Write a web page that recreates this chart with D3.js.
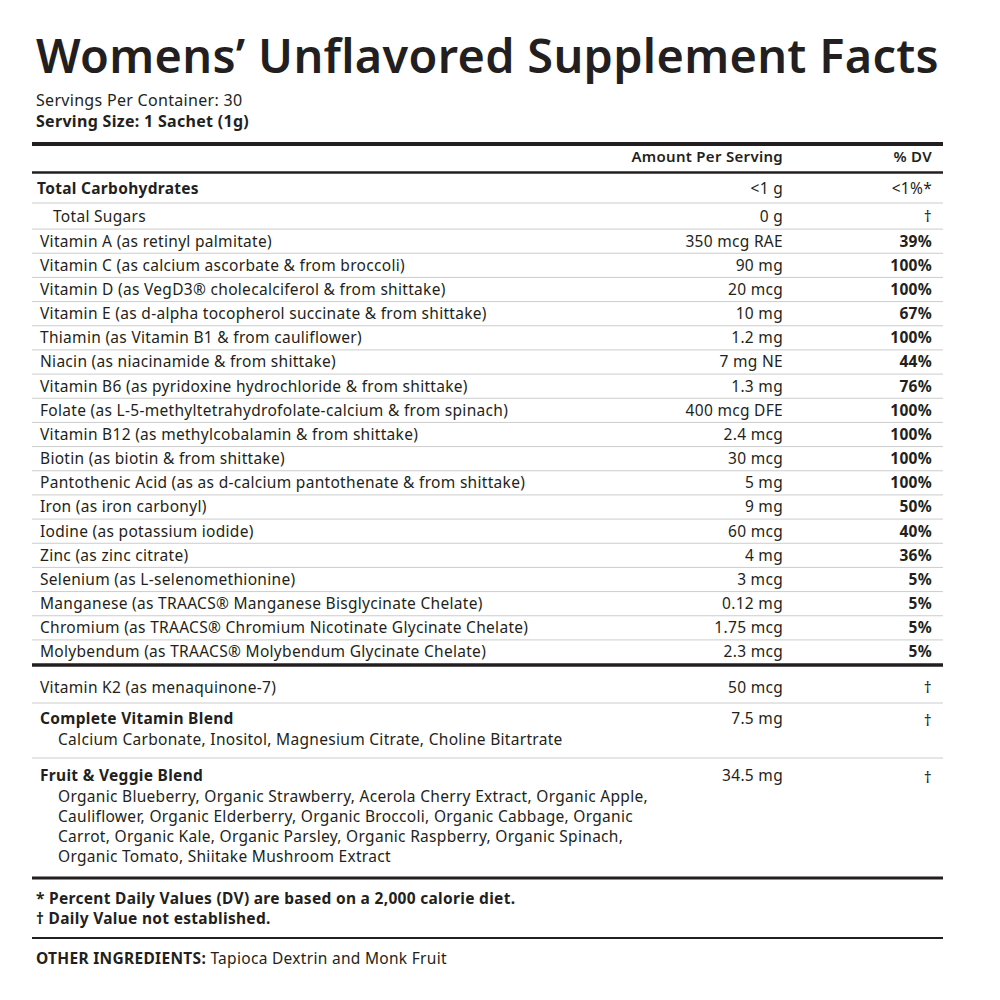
<!DOCTYPE html>
<html><head><meta charset="utf-8">
<script src="https://cdn.jsdelivr.net/npm/d3@7"></script>
<style>body{margin:0;background:#fff}text{font-family:"Noto Sans",Lato,sans-serif;fill:#231f20;letter-spacing:0.3px}</style>
</head><body><svg id="c" width="1000" height="1000"></svg>
<script>
const names=["Total Carbohydrates","Total Sugars","Vitamin A (as retinyl palmitate)","Vitamin C (as calcium ascorbate & from broccoli)","Vitamin D (as VegD3® cholecalciferol & from shittake)","Vitamin E (as d-alpha tocopherol succinate & from shittake)","Thiamin (as Vitamin B1 & from cauliflower)","Niacin (as niacinamide & from shittake)","Vitamin B6 (as pyridoxine hydrochloride & from shittake)","Folate (as L-5-methyltetrahydrofolate-calcium & from spinach)","Vitamin B12 (as methylcobalamin & from shittake)","Biotin (as biotin & from shittake)","Pantothenic Acid (as as d-calcium pantothenate & from shittake)","Iron (as iron carbonyl)","Iodine (as potassium iodide)","Zinc (as zinc citrate)","Selenium (as L-selenomethionine)","Manganese (as TRAACS® Manganese Bisglycinate Chelate)","Chromium (as TRAACS® Chromium Nicotinate Glycinate Chelate)","Molybendum (as TRAACS® Molybendum Glycinate Chelate)"];
const amounts=["<1 g","0 g","350 mcg RAE","90 mg","20 mcg","10 mg","1.2 mg","7 mg NE","1.3 mg","400 mcg DFE","2.4 mcg","30 mcg","5 mg","9 mg","60 mcg","4 mg","3 mcg","0.12 mg","1.75 mcg","2.3 mcg"];
const dvs=["<1%*","†","39%","100%","100%","67%","100%","44%","76%","100%","100%","100%","100%","50%","40%","36%","5%","5%","5%","5%"];
const blendNames=["Vitamin K2 (as menaquinone-7)","Complete Vitamin Blend","Fruit & Veggie Blend"];
const blendAmounts=["50 mcg","7.5 mg","34.5 mg"];
const blendDvs=["†","†","†"];
const blendSubs=[[],["Calcium Carbonate, Inositol, Magnesium Citrate, Choline Bitartrate"],["Organic Blueberry, Organic Strawberry, Acerola Cherry Extract, Organic Apple,","Cauliflower, Organic Elderberry, Organic Broccoli, Organic Cabbage, Organic","Carrot, Organic Kale, Organic Parsley, Organic Raspberry, Organic Spinach,","Organic Tomato, Shiitake Mushroom Extract"]];
const footnotes=["* Percent Daily Values (DV) are based on a 2,000 calorie diet.","† Daily Value not established."];

const svg=d3.select("#c");
const L=32,R=943,xAmt=783,xDv=932;
const y=d3.scaleLinear().domain([1,19]).range([217,652]);
const yr=i=>i===0?189:y(i);
const line=(yy,w,c)=>svg.append("line").attr("x1",L).attr("x2",R).attr("y1",yy).attr("y2",yy).attr("stroke",c).attr("stroke-width",w);
const t=(x,yy,s,o={})=>svg.append("text").attr("x",x).attr("y",yy).attr("dy","0.35em").attr("font-size",o.fs||15.5).attr("font-weight",o.fw||400).attr("text-anchor",o.a||"start").text(s);

const title=t(36,57,"Womens’ Unflavored Supplement Facts",{fs:46,fw:600});
title.attr("textLength",903).attr("lengthAdjust","spacingAndGlyphs");
t(36,100,"Servings Per Container: 30",{fs:16});
t(36,121,"Serving Size: 1 Sachet (1g)",{fs:16,fw:700});
line(144,4,"#231f20");
t(xAmt,157,"Amount Per Serving",{a:"end",fw:600,fs:15});
t(xDv,157,"% DV",{a:"end",fw:600,fs:15});
line(172.5,2.5,"#231f20");

names.forEach((n,i)=>{
  const yy=yr(i);
  t(i===0?37:(i===1?53:40),yy,n,{fw:i===0?700:400});
  t(xAmt,yy,amounts[i],{a:"end"});
  t(xDv,yy,dvs[i],{a:"end",fw:i<2?400:700});
  if(i>0&&i<19) line((yr(i)+yr(i+1))/2,1,"#ccc");
});
line(203,1,"#ccc");
line(665,3.5,"#231f20");

const by=[688,719,776];
blendNames.forEach((n,i)=>{
  t(40,by[i],n,{fw:i>0?700:400});
  t(xAmt,by[i],blendAmounts[i],{a:"end"});
  t(xDv,by[i]+(i>0?2:0),blendDvs[i],{a:"end"});
  blendSubs[i].forEach((s,j)=>t(58,by[i]+21+j*19.7,s));
});
line(703,1,"#ccc");line(758,1,"#ccc");
line(878,3,"#231f20");
footnotes.forEach((f,i)=>t(36,899+i*20,f,{fw:700}));
line(938,2,"#231f20");
const oi=svg.append("text").attr("x",36).attr("y",959).attr("dy","0.35em").attr("font-size",15.5);
oi.append("tspan").attr("font-weight",700).text("OTHER INGREDIENTS: ");
oi.append("tspan").text("Tapioca Dextrin and Monk Fruit");
</script></body></html>
